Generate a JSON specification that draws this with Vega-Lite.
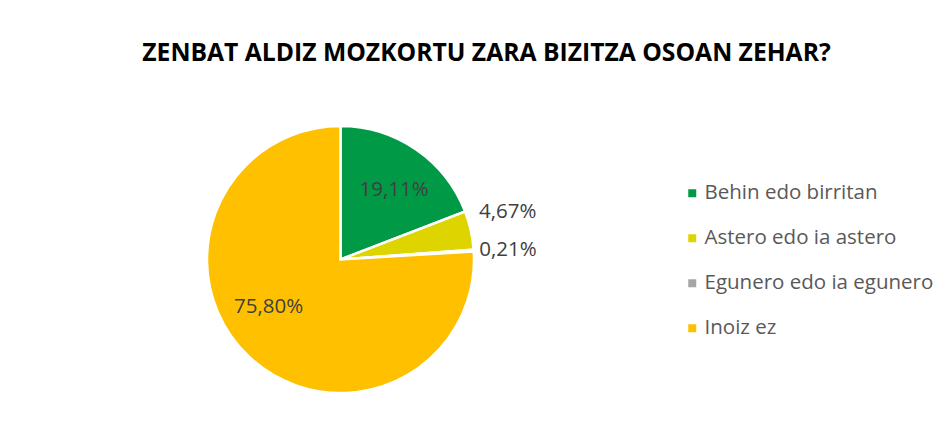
{
  "$schema": "https://vega.github.io/schema/vega-lite/v6.json",
  "autosize": "none",
  "width": 267,
  "height": 267,
  "padding": {"left": 207, "top": 126, "right": 474, "bottom": 48},
  "background": "white",
  "title": {
    "text": "ZENBAT ALDIZ MOZKORTU ZARA BIZITZA OSOAN ZEHAR?",
    "font": "Open Sans",
    "fontSize": 24.7,
    "fontWeight": "bold",
    "color": "#000000",
    "anchor": "middle",
    "frame": "group",
    "dx": 146,
    "baseline": "alphabetic",
    "offset": 31
  },
  "data": {
    "values": [
      {"cat": "Behin edo birritan", "value": 19.11, "label": "19,11%", "order": 1},
      {"cat": "Astero edo ia astero", "value": 4.67, "label": "4,67%", "order": 2},
      {"cat": "Egunero edo ia egunero", "value": 0.21, "label": "0,21%", "order": 3},
      {"cat": "Inoiz ez", "value": 75.80, "label": "75,80%", "order": 4}
    ]
  },
  "encoding": {
    "theta": {"field": "value", "type": "quantitative", "stack": true},
    "order": {"field": "order", "type": "quantitative"}
  },
  "layer": [
    {
      "mark": {"type": "arc", "stroke": "white", "strokeWidth": 2.5, "radius": 133.5},
      "encoding": {
        "color": {
          "field": "cat",
          "type": "nominal",
          "sort": ["Behin edo birritan", "Astero edo ia astero", "Egunero edo ia egunero", "Inoiz ez"],
          "scale": {
            "domain": ["Behin edo birritan", "Astero edo ia astero", "Egunero edo ia egunero", "Inoiz ez"],
            "range": ["#009A46", "#DED400", "#A5A5A5", "#FFC000"]
          },
          "legend": {
            "title": null,
            "orient": "none",
            "legendX": 475,
            "legendY": 57,
            "symbolType": "square",
            "symbolSize": 64,
            "symbolStrokeWidth": 0,
            "labelFont": "Open Sans",
            "labelFontSize": 20.5,
            "labelColor": "#595959",
            "labelOffset": 2,
            "rowPadding": 24,
            "padding": 0,
            "labelLimit": 400
          }
        }
      }
    },
    {
      "mark": {"type": "text", "radius": 84, "dx": 6, "font": "Open Sans", "fontSize": 20.5, "color": "#404040", "baseline": "middle", "align": "center"},
      "encoding": {
        "text": {"condition": {"test": "datum.cat === 'Behin edo birritan'", "field": "label"}, "value": ""}
      }
    },
    {
      "mark": {"type": "text", "radius": 86, "dx": -13, "dy": -15, "font": "Open Sans", "fontSize": 20.5, "color": "#404040", "baseline": "middle", "align": "center"},
      "encoding": {
        "text": {"condition": {"test": "datum.cat === 'Inoiz ez'", "field": "label"}, "value": ""}
      }
    },
    {
      "mark": {"type": "text", "radius": 142, "dx": 0, "dy": -16, "font": "Open Sans", "fontSize": 20.5, "color": "#404040", "baseline": "middle", "align": "left"},
      "encoding": {
        "text": {"condition": {"test": "datum.cat === 'Astero edo ia astero'", "field": "label"}, "value": ""}
      }
    },
    {
      "mark": {"type": "text", "radius": 142, "dx": -3, "dy": 0, "font": "Open Sans", "fontSize": 20.5, "color": "#404040", "baseline": "middle", "align": "left"},
      "encoding": {
        "text": {"condition": {"test": "datum.cat === 'Egunero edo ia egunero'", "field": "label"}, "value": ""}
      }
    }
  ],
  "config": {
    "view": {"stroke": null}
  }
}
